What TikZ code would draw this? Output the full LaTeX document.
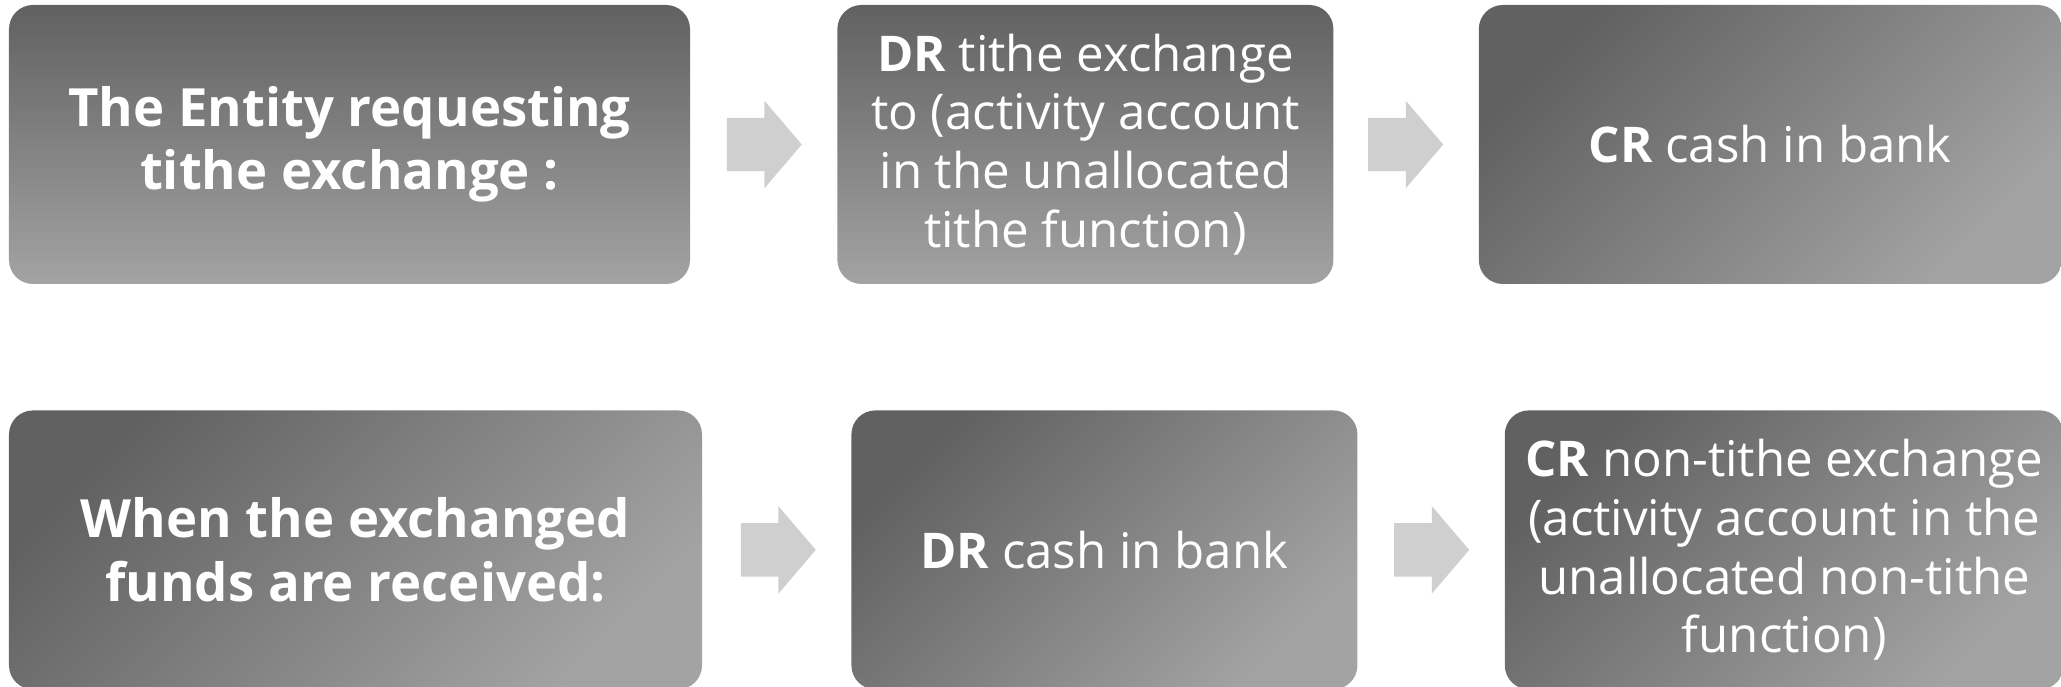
\documentclass[tikz,border=0pt]{standalone}
\usepackage{fontspec}
\setmainfont{Open Sans}
\usepackage{tikz}
\usetikzlibrary{shapes.arrows, positioning, calc}
\definecolor{boxdark}{HTML}{616161}
\definecolor{boxlight}{HTML}{A3A3A3}
\definecolor{arrowgray}{HTML}{CFCFCF}
\tikzset{
    stage/.style={
        rectangle, rounded corners=0.24cm, draw=none,
        minimum height=2.79cm, inner sep=0pt,
        text=white, align=center,
        font=\fontsize{14}{16.7}\selectfont,
    },
    lead/.style={
        stage, font=\fontsize{15}{18}\selectfont\bfseries,
    },
    vshade/.style={top color=boxdark, bottom color=boxlight},
    dshade/.style={top color=boxdark, bottom color=boxlight, shading angle=45},
    flowarrow/.style={
        single arrow, fill=arrowgray, draw=none,
        minimum height=0.75cm, minimum width=0.86cm,
        single arrow head extend=0.17cm, single arrow tip angle=99,
        inner xsep=0pt, inner ysep=0.26cm,
    },
}

\begin{document}
\begin{tikzpicture}

    \useasboundingbox (0,0) rectangle (20.61,6.87);

    % first row: the request
    \node[lead, vshade, minimum width=6.81cm] (tithereq) at (3.495,5.425)
        {The Entity requesting\\tithe exchange :};
    \node[stage, vshade, minimum width=4.96cm, right=1.46cm of tithereq] (drtithe)
        {\textbf{DR} tithe exchange\\to (activity account\\in the unallocated\\tithe function)};
    \node[stage, dshade, minimum width=5.83cm, right=1.44cm of drtithe] (crcash)
        {\textbf{CR} cash in bank};

    % second row: funds received
    \node[lead, dshade, minimum width=6.93cm, below right=1.25cm and 0cm of tithereq.south west] (received)
        {When the exchanged\\funds are received:};
    \node[stage, dshade, minimum width=5.06cm, right=1.48cm of received] (drcash)
        {\textbf{DR} cash in bank};
    \node[stage, dshade, minimum width=5.59cm, right=1.46cm of drcash] (crnontithe)
        {\textbf{CR} non-tithe exchange\\(activity account in the\\unallocated non-tithe\\function)};

    \node[flowarrow, left=0.34cm of drtithe.west, anchor=tip] (arrA) {};
    \node[flowarrow, left=0.34cm of crcash.west, anchor=tip] (arrB) {};
    \node[flowarrow, left=0.34cm of drcash.west, anchor=tip] (arrC) {};
    \node[flowarrow, left=0.34cm of crnontithe.west, anchor=tip] (arrD) {};

\end{tikzpicture}
\end{document}
